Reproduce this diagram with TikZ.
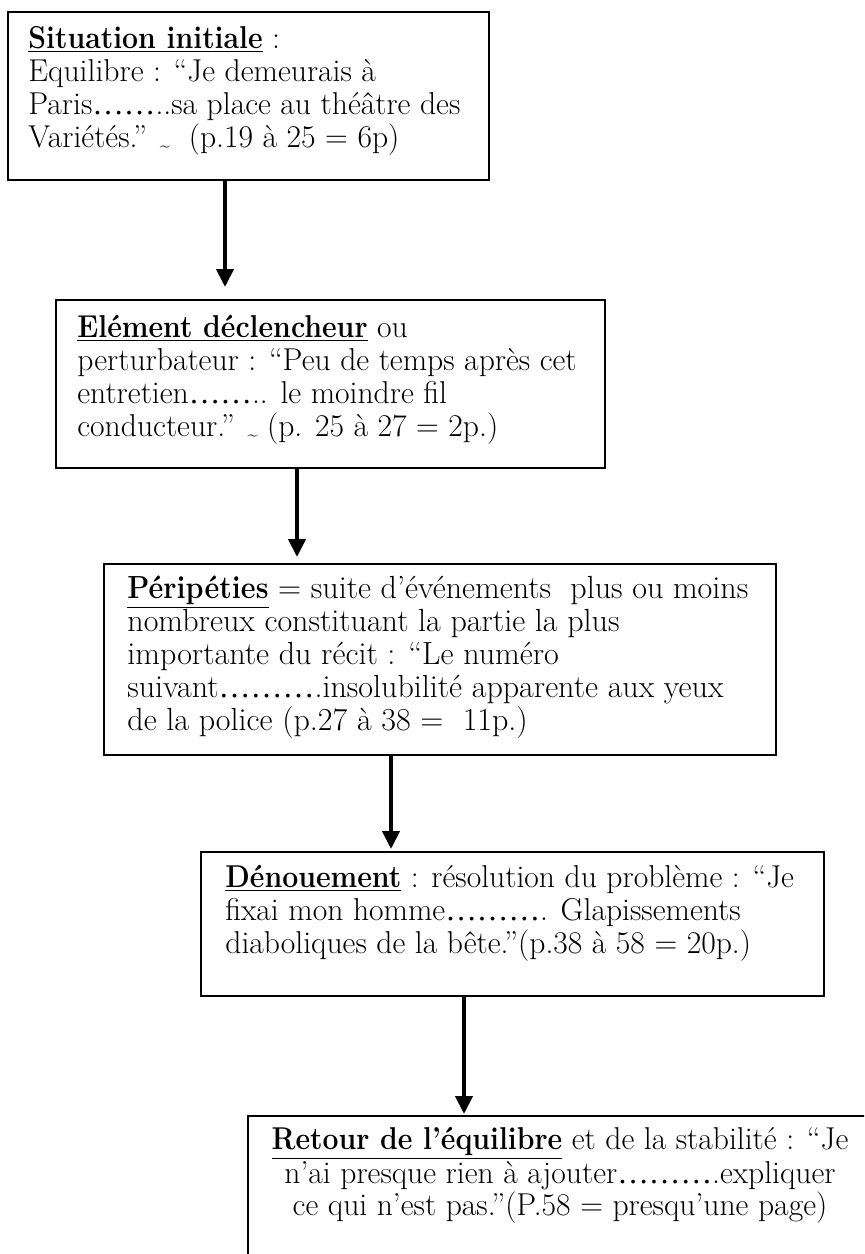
\documentclass[tikz,border=0pt]{standalone}
\usepackage{fontspec}
\usetikzlibrary{arrows.meta}
\newfontface\elfont{Liberation Serif}
\newcommand{\el}[1]{{\elfont #1}}
\newcommand{\hd}[1]{\underline{\scalebox{0.9}[1]{\bfseries #1}}}
\newcommand{\tl}{\raisebox{-0.25ex}{\fontsize{9pt}{9pt}\selectfont\textasciitilde}}
\newcommand{\fsA}{\fontsize{15.8pt}{16.65pt}\selectfont}
\newcommand{\fsB}{\fontsize{16pt}{16.5pt}\selectfont}
\newcommand{\fsC}{\fontsize{15.8pt}{16pt}\selectfont}
\begin{document}
\begin{tikzpicture}[x=0.5pt,y=-0.5pt,
  box/.style={draw, line width=1pt, inner sep=0pt, anchor=north west},
  txt/.style={inner sep=0pt, anchor=base west},
  arr/.style={line width=2pt, -{Triangle[length=9pt,width=8.5pt]}}]
\clip (0,0) rectangle (864,1254);
\fill[white] (0,0) rectangle (864,1254);

\node[box, minimum width=240.5pt, minimum height=84pt] (b1) at (7,11) {};
\node[box, minimum width=274.5pt, minimum height=84pt] (b2) at (55,299) {};
\node[box, minimum width=336pt, minimum height=95.5pt] (b3) at (103,563) {};
\node[box, minimum width=311.5pt, minimum height=72pt] (b4) at (200,851) {};
\node[box, minimum width=320pt, minimum height=100pt] (b5) at (247,1115) {};

\node[txt] (t1) at (28,48) {\parbox[t]{380pt}{\fsA
\hd{Situation initiale} :\\
Equilibre : “Je demeurais à\\
Paris\el{……}..sa place au théâtre des\\
Variétés.” \tl{}\ \ (p.19 à 25 = 6p)}};

\node[txt] (t2) at (77,337) {\parbox[t]{380pt}{\fsA
\hd{Elément déclencheur} ou\\
perturbateur : “Peu de temps après cet\\
entretien\el{……}.. le moindre fil\\
conducteur.” \tl{} (p. 25 à 27 = 2p.)}};

\node[txt] (t3) at (127,598) {\parbox[t]{380pt}{\fsB
\hd{Péripéties} = suite d’événements\ \ plus ou moins\\
nombreux constituant la partie la plus\\
importante du récit : “Le numéro\\
suivant\el{………}.insolubilité apparente aux yeux\\
de la police (p.27 à 38 =\ \ 11p.)}};

\node[txt] (t4) at (225,887) {\parbox[t]{380pt}{\fsA
\hd{Dénouement} : résolution du problème : “Je\\
fixai mon homme\el{………}. Glapissements\\
diaboliques de la bête.”(p.38 à 58 = 20p.)}};

\node[txt, anchor=base] (t5) at (560,1149) {\parbox[t]{330pt}{\centering\fsC
\hd{Retour de l’équilibre} et de la stabilité : “Je\\
n’ai presque rien à ajouter\el{………}.expliquer\\
ce qui n’est pas.”(P.58 = presqu’une page)}};

\coordinate (x1) at (225,0);
\coordinate (x2) at (297,0);
\coordinate (x3) at (391,0);
\coordinate (x4) at (464,0);
\draw[arr, shorten >=6pt] (b1.south -| x1) -- (b2.north -| x1);
\draw[arr, shorten >=3pt] (b2.south -| x2) -- (b3.north -| x2);
\draw[arr, shorten >=1pt] (b3.south -| x3) -- (b4.north -| x3);
\draw[arr, shorten >=0.5pt] (b4.south -| x4) -- (b5.north -| x4);
\end{tikzpicture}
\end{document}
